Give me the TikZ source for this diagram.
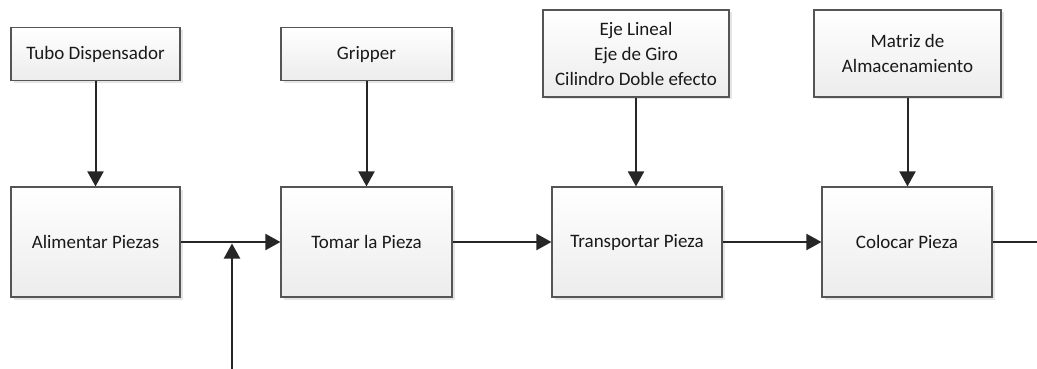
\documentclass[tikz,border=0pt]{standalone}
\usepackage{fontspec}
\setmainfont{Carlito}
\usetikzlibrary{arrows.meta,shadows}
\definecolor{boxline}{RGB}{85,85,85}
\definecolor{arrowc}{RGB}{38,38,38}
\definecolor{txt}{RGB}{25,25,25}
\tikzset{
  blk/.style={draw=boxline, line width=1.1pt, rectangle, align=center,
    top color=white, bottom color={rgb,255:red,236;green,236;blue,236},
    drop shadow={shadow xshift=2.5pt, shadow yshift=-2.5pt, fill=gray!40, opacity=0.5},
    font=\fontsize{19}{25}\selectfont, text=txt, inner sep=2pt},
  conn/.style={draw=arrowc, line width=2pt, -{Triangle[length=15pt,width=16pt]}},
  plain/.style={draw=arrowc, line width=2pt}
}
\begin{document}
\begin{tikzpicture}[x=1pt,y=-1pt]
\useasboundingbox (0,0) rectangle (1037,369);
\node[blk, minimum width=169pt, minimum height=53pt] (tubo) at (95.5,54) {Tubo Dispensador};
\node[blk, minimum width=169pt, minimum height=110pt] (alim) at (95.5,242) {Alimentar Piezas};
\node[blk, minimum width=171pt, minimum height=53pt] (grip) at (366.5,54) {Gripper};
\node[blk, minimum width=171pt, minimum height=110pt] (tomar) at (366.5,242) {Tomar la Pieza};
\node[blk, minimum width=186pt, minimum height=87pt] (eje) at (636,53.5) {Eje Lineal\\Eje de Giro\\Cilindro Doble efecto};
\node[blk, minimum width=170pt, minimum height=110pt] (trans) at (637,242) {Transportar Pieza};
\node[blk, minimum width=187pt, minimum height=87pt] (matriz) at (907.5,53.5) {Matriz de\\Almacenamiento};
\node[blk, minimum width=170pt, minimum height=110pt] (colocar) at (907,242) {Colocar Pieza};
\coordinate (junc) at (232,243.5);
\coordinate (bottom) at (232,369);
\coordinate (outend) at (1037,242);
\draw[conn] (tubo.south) -- (alim.north);
\draw[conn] (grip.south) -- (tomar.north);
\draw[conn] (eje.south) -- (eje.south |- trans.north);
\draw[conn] (matriz.south) -- (matriz.south |- colocar.north);
\draw[conn] (alim.east) -- (tomar.west);
\draw[conn] (bottom) -- (junc);
\draw[conn] (tomar.east) -- (trans.west);
\draw[conn] (trans.east) -- (colocar.west);
\draw[plain] (colocar.east) -- (outend);
\end{tikzpicture}
\end{document}
